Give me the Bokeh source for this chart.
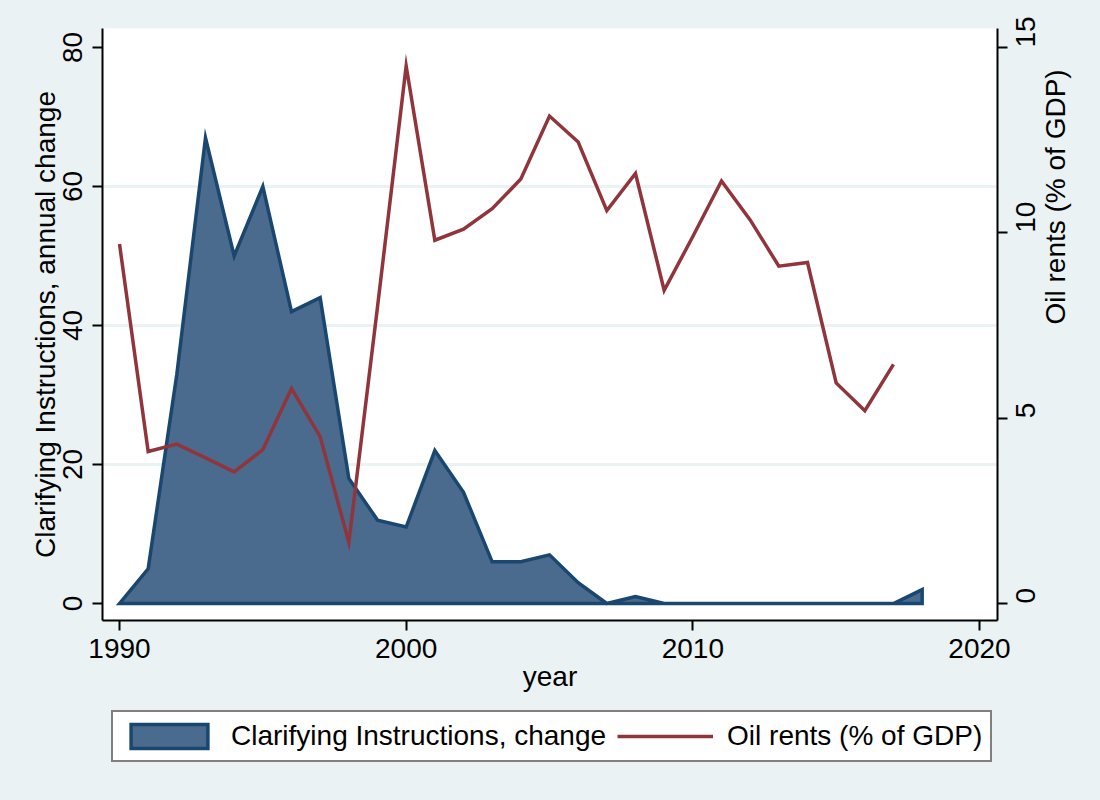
import math
from bokeh.plotting import figure
from bokeh.layouts import column
from bokeh.models import (Range1d, LinearAxis, FixedTicker, Legend, LegendItem)
from bokeh.embed import file_html
from bokeh.resources import INLINE

# ---- data ----
years_clar = list(range(1990, 2019))
clar_change = [0, 5, 33, 67, 50, 60, 42, 44, 18, 12, 11, 22, 16, 6, 6, 7, 3,
               0, 1, 0, 0, 0, 0, 0, 0, 0, 0, 0, 2]
years_oil = list(range(1990, 2018))
oil_rents = [9.7, 4.1, 4.3, 3.93, 3.55, 4.15, 5.8, 4.5, 1.65, 8.0, 14.5, 9.8,
             10.1, 10.65, 11.45, 13.15, 12.45, 10.6, 11.6, 8.45, 9.9, 11.4,
             10.35, 9.1, 9.2, 5.95, 5.2, 6.45]
x_ticks = [1990, 2000, 2010, 2020]
left_ticks = [0, 20, 40, 60, 80]
right_ticks = [0, 5, 10, 15]
grid_ticks = [20, 40, 60]
label_area = "Clarifying Instructions, change"
label_line = "Oil rents (% of GDP)"
left_title = "Clarifying Instructions, annual change"
right_title = "Oil rents (% of GDP)"
x_title = "year"

BG = "#EAF2F3"
NAVY = "#1A476F"
FILL = "#4A6B8D"
MAROON = "#90353B"
FONT = "Liberation Sans"
FS = "28px"

p = figure(frame_width=895, frame_height=592, output_backend="svg",
           toolbar_location=None,
           x_range=Range1d(1989.407, 2020.628), y_range=Range1d(-2.446, 82.734),
           min_border_left=102, min_border_right=103, min_border_top=28,
           min_border_bottom=90)
p.background_fill_color = "white"
p.border_fill_color = BG
p.outline_line_color = None

p.extra_y_ranges = {"oil": Range1d(-0.4586, 15.5126)}

# area (closed polygon down to zero baseline)
ax = years_clar + [years_clar[-1], years_clar[0]]
ay = clar_change + [0, 0]
area_style = dict(fill_color=FILL, line_color=NAVY, line_width=3.5,
                  line_join="miter")
line_style = dict(line_color=MAROON, line_width=3.5, line_join="miter")
p.patch(ax, ay, **area_style)
p.line(years_oil, oil_rents, y_range_name="oil", **line_style)

def style_axis(a):
    a.axis_line_color = "black"
    a.axis_line_width = 2
    a.major_tick_line_color = "black"
    a.major_tick_line_width = 2
    a.major_tick_out = 10
    a.major_tick_in = 0
    a.minor_tick_line_color = None
    a.major_label_text_font = FONT
    a.major_label_text_font_size = FS
    a.major_label_text_color = "black"
    a.axis_label_text_font = FONT
    a.axis_label_text_font_size = FS
    a.axis_label_text_font_style = "normal"
    a.axis_label_text_color = "black"

xa = p.xaxis[0]
xa.ticker = FixedTicker(ticks=x_ticks)
xa.axis_label = x_title
xa.major_label_standoff = 8
xa.axis_label_standoff = 0
style_axis(xa)

ya = p.yaxis[0]
ya.ticker = FixedTicker(ticks=left_ticks)
ya.axis_label = left_title
ya.major_label_orientation = "vertical"
ya.major_label_standoff = 10
ya.axis_label_standoff = 0
style_axis(ya)

ra = LinearAxis(y_range_name="oil", ticker=FixedTicker(ticks=right_ticks),
                axis_label=right_title)
ra.major_label_orientation = math.pi / 2
ra.axis_label_orientation = math.pi / 2
ra.major_label_standoff = 18
ra.axis_label_standoff = 8
style_axis(ra)
p.add_layout(ra, "right")

p.xgrid.grid_line_color = None
p.ygrid.ticker = FixedTicker(ticks=grid_ticks)
p.ygrid.grid_line_color = BG
p.ygrid.grid_line_width = 3

# legend strip below the chart (its renderers sit outside its visible range)
p2 = figure(width=1100, height=90, output_backend="svg", toolbar_location=None,
            x_range=Range1d(0, 1), y_range=Range1d(0, 1),
            x_axis_type=None, y_axis_type=None, min_border=0)
p2.background_fill_color = BG
p2.border_fill_color = BG
p2.outline_line_color = None
la = p2.patch(ax, ay, **area_style)
ll = p2.line(years_oil, oil_rents, **line_style)

legend = Legend(items=[LegendItem(label=label_area, renderers=[la]),
                       LegendItem(label=label_line, renderers=[ll])],
                orientation="horizontal", location=(9, 38))
legend.label_text_font = FONT
legend.label_text_font_size = FS
legend.label_text_color = "black"
legend.glyph_width = 96
legend.glyph_height = 30
legend.label_standoff = 14
legend.spacing = 11
legend.padding = 8
legend.margin = 0
legend.border_line_color = "black"
legend.border_line_width = 2
legend.background_fill_color = "white"
legend.background_fill_alpha = 1
p2.add_layout(legend, "center")

layout = column(p, p2, spacing=0)
layout.styles = {"background-color": BG}
open("out.html", "w").write(file_html(layout, INLINE))
